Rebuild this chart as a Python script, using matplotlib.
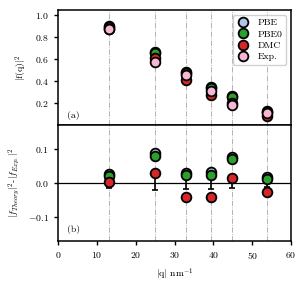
import matplotlib
matplotlib.use("Agg")
import matplotlib.pyplot as plt
import numpy as np

plt.rcParams['font.family'] = ['cmr10', 'DejaVu Serif']
plt.rcParams['mathtext.fontset'] = 'cm'
plt.rcParams['axes.formatter.use_mathtext'] = True
plt.rcParams['font.size'] = 7

q = [13.0, 25.0, 33.0, 39.3, 44.7, 53.8]
exp_vals = [0.870, 0.575, 0.452, 0.310, 0.185, 0.108]
pbe_vals = [0.895, 0.662, 0.480, 0.341, 0.262, 0.127]
pbe0_vals = [0.892, 0.655, 0.475, 0.333, 0.255, 0.121]
dmc_vals = [0.872, 0.605, 0.412, 0.270, 0.199, 0.082]
exp_err = [0.015, 0.02, 0.017, 0.017, 0.015, 0.013]

series = [("PBE", pbe_vals, "#aec7e8"),
          ("PBE0", pbe0_vals, "#2ca02c"),
          ("DMC", dmc_vals, "#d62728"),
          ("Exp.", exp_vals, "#f7b6d2")]

fig = plt.figure(figsize=(3.06, 2.84), dpi=100)
ax1 = fig.add_axes([0.19, 0.56, 0.761, 0.405])
ax2 = fig.add_axes([0.19, 0.151, 0.761, 0.409], sharex=ax1)

ms = 7
mew = 1.3
for name, vals, col in series:
    ax1.plot(q, vals, 'o', color=col, mec='black', mew=mew, ms=ms, label=name, zorder=3)

exp_arr = np.array(exp_vals)
for name, vals, col in series[:3]:
    ax2.plot(q, np.array(vals) - exp_arr, 'o', color=col, mec='black', mew=mew, ms=ms, zorder=3)
ax2.errorbar(q, np.zeros(len(q)), yerr=exp_err, fmt='none', ecolor='black',
             elinewidth=1.2, capsize=2.5, capthick=1.2, zorder=2)
ax2.axhline(0, color='black', lw=0.9, zorder=1)

for ax in (ax1, ax2):
    for qq in q:
        ax.axvline(qq, color='grey', ls='-.', lw=0.6, alpha=0.7, zorder=0)
    for s in ax.spines.values():
        s.set_linewidth(1.1)
    ax.tick_params(width=1.0, length=3, labelsize=7)

ax1.set_ylim(0, 1.045)
ax1.set_yticks([0.2, 0.4, 0.6, 0.8, 1.0])
ax1.tick_params(axis='x', bottom=False, labelbottom=False)
ax1.set_ylabel(r"$|\mathrm{f(q)}|^2$", fontsize=7)
ax1.text(0.04, 0.06, "(a)", transform=ax1.transAxes, fontsize=7)
leg = ax1.legend(loc='upper right', fontsize=7, handletextpad=0.9, borderpad=0.4,
                 labelspacing=0.25, framealpha=0.9, handlelength=1.2)
leg.get_frame().set_edgecolor('#cccccc')

ax2.set_ylim(-0.17, 0.17)
ax2.set_yticks([-0.1, 0.0, 0.1])
ax2.set_xlim(0, 60)
ax2.set_xticks([0, 10, 20, 30, 40, 50, 60])
ax2.set_ylabel(r"$|f_{Theory}|^2$-$|f_{Exp.}|^2$", fontsize=7)
ax2.set_xlabel(r"$|$q$|$ nm$^{-1}$", fontsize=7)
ax2.text(0.04, 0.08, "(b)", transform=ax2.transAxes, fontsize=7)

fig.align_ylabels([ax1, ax2])
fig.savefig("out.png", dpi=100)
